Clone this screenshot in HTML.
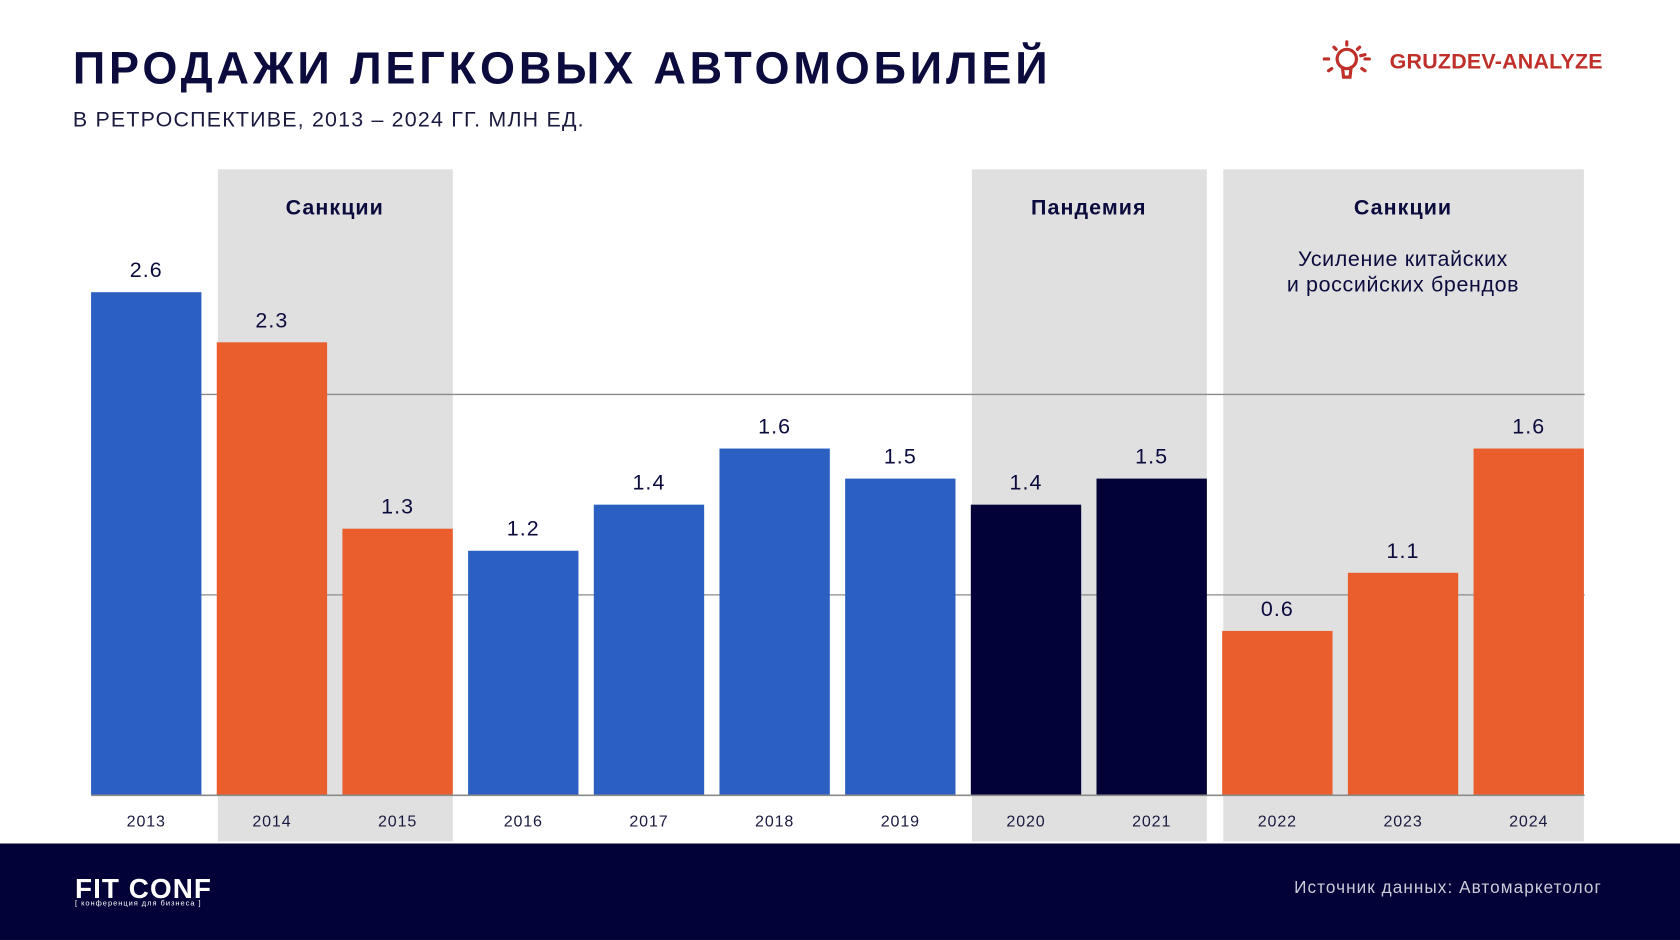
<!DOCTYPE html>
<html><head><meta charset="utf-8"><style>
html,body{margin:0;padding:0;background:#fff;overflow:hidden}
#wrap{width:1680px;height:940px;position:relative;overflow:hidden}
#s{width:1568px;height:877px;position:absolute;left:0;top:0;transform:scale(1.07143,1.0718);transform-origin:0 0;font-family:"Liberation Sans","DejaVu Sans",sans-serif}
.t{position:absolute;white-space:nowrap}
</style></head><body>
<div id="wrap"><div id="s">
<div class="t" style="left:68px;top:40px;font-size:42px;font-weight:bold;color:#0b0b3e;letter-spacing:3.6px">ПРОДАЖИ ЛЕГКОВЫХ АВТОМОБИЛЕЙ</div>
<div class="t" style="left:68px;top:101px;font-size:20px;color:#1a1a40;letter-spacing:1.1px">В РЕТРОСПЕКТИВЕ, 2013 – 2024 ГГ. МЛН ЕД.</div>
<div style="position:absolute;left:1230px;top:36px">
<svg width="60" height="44"><g stroke="#c0302a" stroke-width="3" fill="none" stroke-linecap="round"><circle cx="27" cy="19" r="9"/><path d="M23 27 L24 36 L30 36 L31 27"/><path d="M27 3v3M15 8l2 2M39 8l-2 2M6 19h4M44 19h4M10 30l3-2M44 30l-3-2M40 16l4-1"/></g></svg>
<div class="t" style="left:67px;top:11px;font-size:20px;font-weight:bold;color:#c0302a;letter-spacing:0.2px">GRUZDEV-ANALYZE</div></div>
<svg id="chart" width="1568" height="877" style="position:absolute;left:0;top:0"></svg>
<div style="position:absolute;left:0;top:787px;width:1568px;height:90px;background:#020238">
<div class="t" style="left:70px;top:27px;font-size:26px;font-weight:900;color:#fff;letter-spacing:1px">FIT CONF</div>
<div class="t" style="left:70px;top:53px;font-size:7px;color:#fff;letter-spacing:0.9px">[ конференция для бизнеса ]</div>
<div class="t" style="right:73px;top:33px;font-size:16px;color:#ccccd8;letter-spacing:1px">Источник данных: Автомаркетолог</div></div>
</div></div>
<script>
const years=["2013","2014","2015","2016","2017","2018","2019","2020","2021","2022","2023","2024"];
const values=[2.51,2.26,1.33,1.22,1.45,1.73,1.58,1.45,1.58,0.82,1.11,1.73];
const valueLabels=["2.6","2.3","1.3","1.2","1.4","1.6","1.5","1.4","1.5","0.6","1.1","1.6"];
const colors=["#2b60c2","#e95e2c","#e95e2c","#2b60c2","#2b60c2","#2b60c2","#2b60c2","#020238","#020238","#e95e2c","#e95e2c","#e95e2c"];
const bands=[{from:1,to:2,title:"Санкции",note:[]},{from:7,to:8,title:"Пандемия",note:[]},{from:9,to:11,title:"Санкции",note:["Усиление китайских","и российских брендов"]}];
const gridVals=[1,2];
const NS="http://www.w3.org/2000/svg",svg=document.getElementById('chart');
const x0=85,pitch=117.3,bw=103,base=742;
function xs(i){return x0+i*pitch}
function ys(v){return base-187*v}
function mk(t,a,p){const e=document.createElementNS(NS,t);for(const k in a)e.setAttribute(k,a[k]);(p||svg).appendChild(e);return e}
bands.forEach(b=>{
 const r=mk('rect',{x:xs(b.from)+1,y:158,width:xs(b.to)+bw-xs(b.from)-1,height:627,fill:'#e0e0e0'});
 
 
 const cx=(xs(b.from)+xs(b.to)+bw)/2;
 const t=mk('text',{x:cx,y:200,'text-anchor':'middle','font-size':20,'font-weight':'bold',fill:'#0b0b3e','letter-spacing':1});t.textContent=b.title;
 
 
 b.note.forEach((n,k)=>{const u=mk('text',{x:cx,y:248+k*24,'text-anchor':'middle','font-size':20,fill:'#0b0b3e','letter-spacing':0.6});u.textContent=n;
 
 });
});
gridVals.forEach(v=>{const l=mk('line',{x1:x0,x2:1479,y1:ys(v),y2:ys(v),stroke:'#8a8a8a','stroke-width':1.2});
 
 });
values.forEach((v,i)=>{
 const r=mk('rect',{x:xs(i),y:ys(v),width:bw,height:base-ys(v),fill:colors[i]});
 
 
 const t=mk('text',{x:xs(i)+bw/2,y:ys(v)-14,'text-anchor':'middle','font-size':20,fill:'#0b0b3e','letter-spacing':1});t.textContent=valueLabels[i];
 
 
 const y=mk('text',{x:xs(i)+bw/2,y:771,'text-anchor':'middle','font-size':15,fill:'#1a1a40','letter-spacing':0.8});y.textContent=years[i];
 
 
});
const bl=mk('line',{x1:x0,x2:1479,y1:base,y2:base,stroke:'#8a8a8a','stroke-width':1.5});


</script>
</body></html>
